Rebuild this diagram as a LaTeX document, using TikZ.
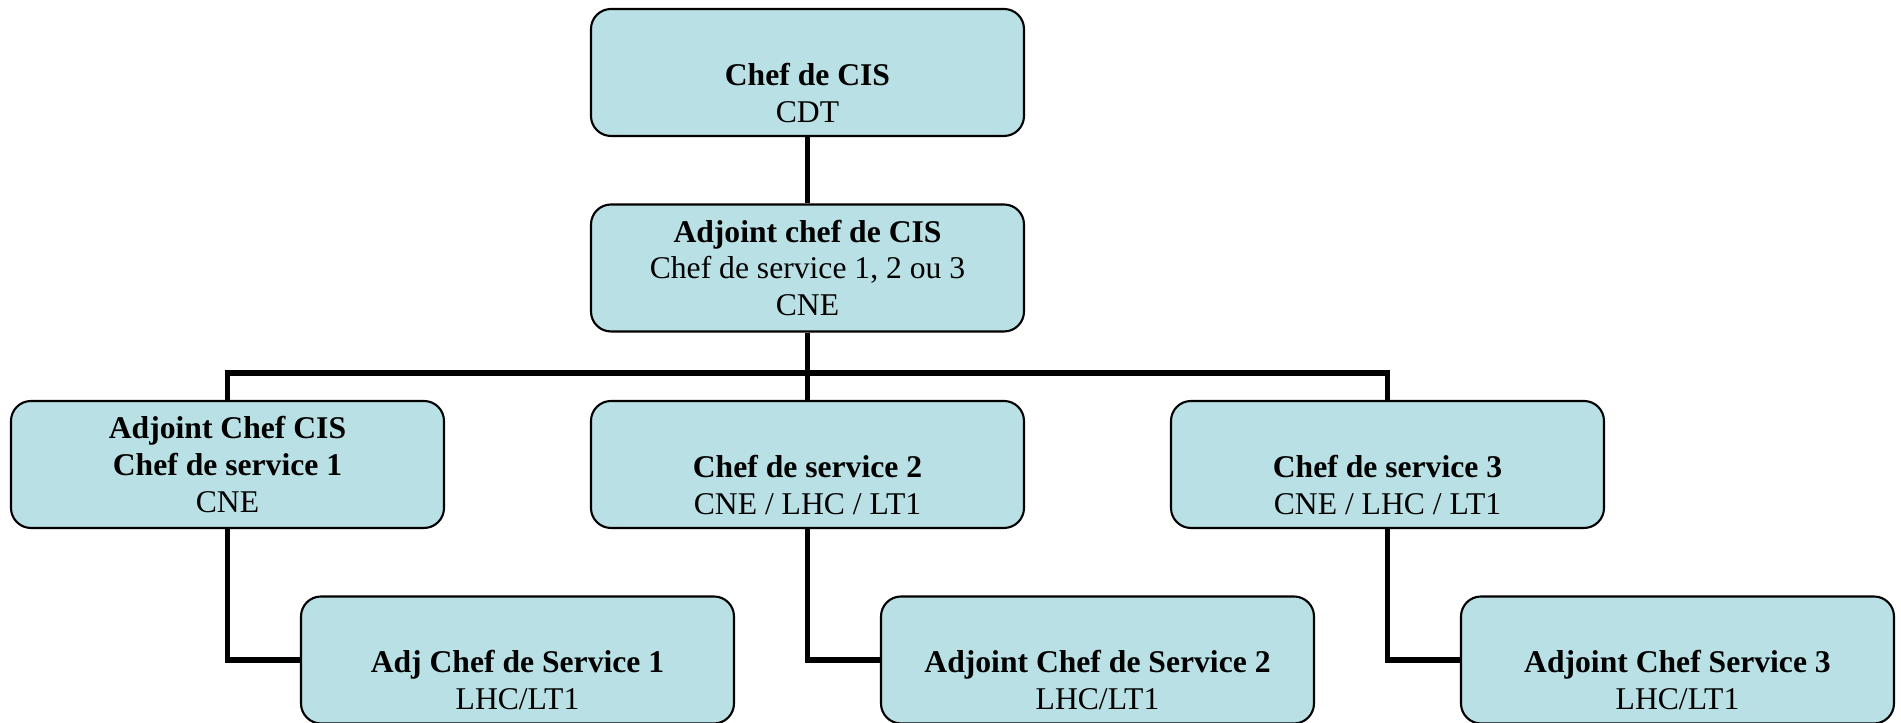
\documentclass[tikz,border=0pt]{standalone}
\usepackage{fontspec}
\setmainfont{Liberation Serif}
\definecolor{boxblue}{RGB}{185,224,228}
\begin{document}
\begin{tikzpicture}[
  box/.style={draw=black, line width=0.6pt, fill=boxblue, rounded corners=0.2cm,
    minimum width=4.33cm, minimum height=1.27cm, inner sep=0pt, align=center,
    font=\fontsize{9pt}{10.5pt}\selectfont},
  link/.style={draw=black, line width=1.7pt}]
  \def\colX{5.8}
  \def\offX{2.9}
  \useasboundingbox (0,0) rectangle (19.01,-7.23);

  \node[box] (chef) at (8.075,-0.725) {\strut\\\textbf{Chef de CIS}\\CDT};
  \node[box] (adj) at (8.075,-2.68) {\textbf{Adjoint chef de CIS}\\Chef de service 1, 2 ou 3\\CNE};

  \node[box] (s1) at (8.075-\colX,-4.645) {\textbf{Adjoint Chef CIS}\\\textbf{Chef de service 1}\\CNE};
  \node[box] (s2) at (8.075,-4.645) {\strut\\\textbf{Chef de service 2}\\CNE / LHC / LT1};
  \node[box] (s3) at (8.075+\colX,-4.645) {\strut\\\textbf{Chef de service 3}\\CNE / LHC / LT1};

  \node[box] (b1) at (8.075-\colX+\offX,-6.6) {\strut\\\textbf{Adj Chef de Service 1}\\LHC/LT1};
  \node[box] (b2) at (8.075+\offX,-6.6) {\strut\\\textbf{Adjoint Chef de Service 2}\\LHC/LT1};
  \node[box] (b3) at (8.075+\colX+\offX,-6.6) {\strut\\\textbf{Adjoint Chef Service 3}\\LHC/LT1};

  \coordinate (bus) at (0,-3.73);
  \draw[link] (chef) -- (adj);% chef to adjoint
  \draw[link] (adj) -- (s2);% adjoint to service 2
  \draw[link] (s1) |- (bus -| s3) -- (s3);% bus over the services
  \draw[link] (s1) |- (b1);% service 1 to its adjoint
  \draw[link] (s2) |- (b2);% service 2 to its adjoint
  \draw[link] (s3) |- (b3);% service 3 to its adjoint
\end{tikzpicture}
\end{document}
